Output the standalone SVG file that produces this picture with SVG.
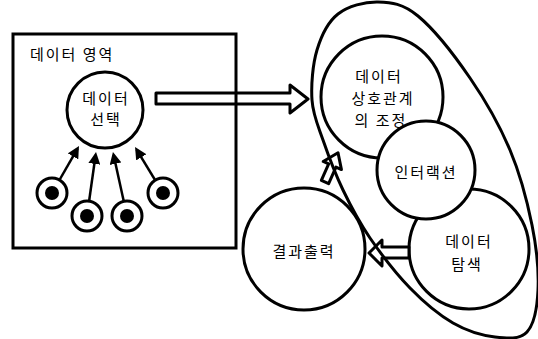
<svg xmlns="http://www.w3.org/2000/svg" width="538" height="339" viewBox="0 0 538 339">
<style>
.t{font-family:"Noto Sans CJK KR","Noto Sans",sans-serif;font-size:15px;fill:#000;text-anchor:middle;letter-spacing:2px}
.s{fill:none;stroke:#000;stroke-width:3}
.c{fill:#fff;stroke:#000;stroke-width:3}
.ln{fill:none;stroke:#000;stroke-width:2.5}
.ba{fill:#fff;stroke:#000;stroke-width:3;stroke-linejoin:round}
</style>
<defs>
<marker id="ah" viewBox="0 0 12 12" refX="9" refY="6" markerWidth="12" markerHeight="12" markerUnits="userSpaceOnUse" orient="auto">
<path d="M0,0 L12,6 L0,12 z" fill="#000"/>
</marker>
</defs>
<rect width="538" height="339" fill="#fff"/>

<g id="connectors">
<path class="ba" d="M156,93 L290,93 L290,85 L308,99 L290,113 L290,104 L156,104 Z"/>
<line class="ln" x1="52" y1="193" x2="77.5" y2="148.6" marker-end="url(#ah)"/>
<line class="ln" x1="87" y1="216" x2="95.6" y2="155" marker-end="url(#ah)"/>
<line class="ln" x1="127" y1="216" x2="113.6" y2="154.9" marker-end="url(#ah)"/>
<line class="ln" x1="163" y1="193" x2="136.6" y2="149.6" marker-end="url(#ah)"/>
</g>

<g id="data-area">
<rect class="s" x="13" y="34" width="223" height="214"/>
<text class="t" x="30" y="60" style="text-anchor:start">데이터 영역</text>
</g>

<g id="data-select">
<circle class="c" cx="105" cy="110" r="38"/>
<text class="t" x="106" y="104">데이터</text>
<text class="t" x="106" y="125">선택</text>
</g>

<g id="src1"><circle class="c" cx="52" cy="193" r="15"/><circle cx="52" cy="193" r="7" fill="#000"/></g>
<g id="src2"><circle class="c" cx="87" cy="216" r="15"/><circle cx="87" cy="216" r="7" fill="#000"/></g>
<g id="src3"><circle class="c" cx="127" cy="216" r="15"/><circle cx="127" cy="216" r="7" fill="#000"/></g>
<g id="src4"><circle class="c" cx="163" cy="193" r="15"/><circle cx="163" cy="193" r="7" fill="#000"/></g>

<g id="explore">
<circle class="c" cx="469" cy="249" r="60"/>
<text class="t" x="469" y="247">데이터</text>
<text class="t" x="467" y="270">탐색</text>
</g>

<g id="adjust">
<circle class="c" cx="382" cy="97" r="61"/>
<text class="t" x="379" y="82">데이터</text>
<text class="t" x="383" y="104">상호관계</text>
<text class="t" x="381" y="126">의 조정</text>
</g>

<g id="interaction">
<circle class="c" cx="426" cy="170" r="49"/>
<text class="t" x="426" y="178">인터랙션</text>
</g>

<g id="output">
<circle class="c" cx="304" cy="249" r="61"/>
<text class="t" x="304" y="257">결과출력</text>
</g>

<g id="loop-arrows">
<path class="ba" transform="translate(325,182) rotate(-66)" d="M0,-4 L18,-4 L18,-10 L32,0 L18,10 L18,4 L0,4 Z"/>
<path class="ba" d="M409,247 L382,247 L382,240 L369,253 L382,266 L382,258 L409,258 Z"/>
</g>

<g id="loop">
<path class="s" d="M312,100 C311,85 312.7,64.3 317,50 C321.3,35.7 327.8,22 338,14 C348.2,6 364.7,1.7 378,2 C391.3,2.3 402.7,3.3 418,16 C433.3,28.7 454.7,55.7 470,78 C485.3,100.3 499.7,125.5 510,150 C520.3,174.5 527.3,201.7 532,225 C536.7,248.3 538.8,272.2 538,290 C537.2,307.8 534.2,324.2 527,332 C519.8,339.8 507.3,338.5 495,337 C482.7,335.5 467.2,331.2 453,323 C438.8,314.8 423.8,302.2 410,288 C396.2,273.8 381.2,254.3 370,238 C358.8,221.7 350.8,206.3 343,190 C335.2,173.7 328.2,155 323,140 C317.8,125 313,115 312,100 Z"/>
</g>
</svg>
